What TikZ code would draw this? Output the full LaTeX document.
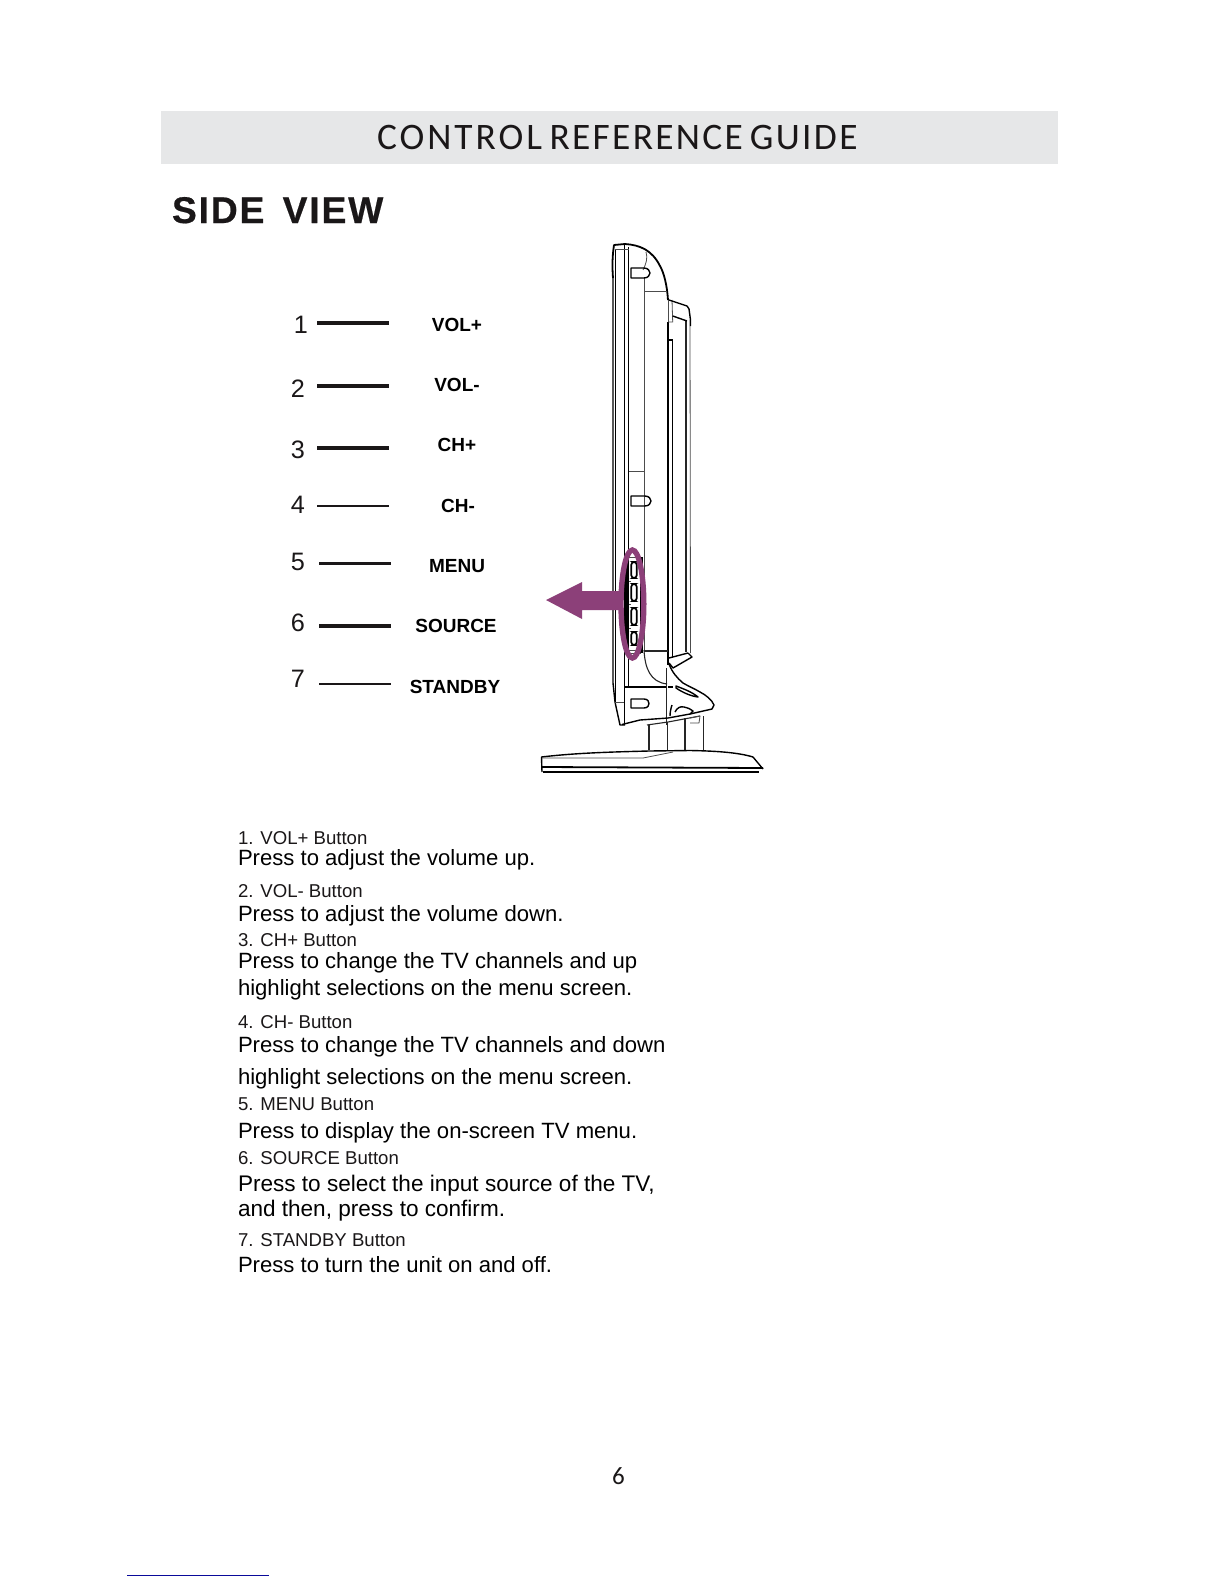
\documentclass[tikz,border=0pt]{standalone}
\usepackage{fontspec}
\setmainfont{Liberation Sans}
\newfontfamily\titlefont[LetterSpace=6.2,WordSpace=0.65]{Carlito}
\newfontfamily\titlefontb[LetterSpace=8,WordSpace=0.65]{Carlito}
\newfontfamily\pagefont{Carlito}
\newfontfamily\headfont[LetterSpace=5,WordSpace=1.5,FakeBold=0.5]{Liberation Sans Bold}
\definecolor{bannerfill}{HTML}{E6E7E8}
\definecolor{plum}{HTML}{8C4079}
\definecolor{inkblack}{HTML}{1A1718}
\definecolor{rulecol}{HTML}{0A0A9A}
\tikzset{
  base/.style={anchor=base west,inner sep=0pt,outer sep=0pt,text=inkblack},
  numtext/.style={anchor=center,inner sep=0pt,text=inkblack,font=\fontsize{12.6}{14}\selectfont},
  keytext/.style={anchor=center,inner sep=0pt,text=black,font=\bfseries\fontsize{9.5}{11}\selectfont},
  small/.style={base,font=\fontsize{9.3}{11}\selectfont},
  big/.style={base,text=black,font=\fontsize{11.05}{13}\selectfont},
  bigger/.style={base,text=black,font=\fontsize{11.28}{13}\selectfont},
  leaderthick/.style={draw=inkblack,line width=1.6pt},
  leaderthin/.style={draw=inkblack,line width=1.1pt},
  tv/.style={draw=black,line width=.7pt,line join=round},
  tvmid/.style={draw=black!85,line width=.55pt,line join=round},
  tvthin/.style={draw=black!70,line width=.4pt,line join=round},
  pill/.style={draw=black,line width=.85pt,rounded corners=1.5pt,fill=white},
}
\begin{document}
\begin{tikzpicture}[x=.5pt,y=-.5pt]
\useasboundingbox (0,0) rectangle (1224,1584);
\fill[white] (0,0) rectangle (1224,1584);
% banner
\fill[bannerfill] (161,111) rectangle (1058,164);
\node[base,font=\fontsize{18.7}{22}\selectfont] (title) at (377,149) {\titlefontb CONTROL \titlefont REFERENCE GUIDE};
\node[base,text=inkblack,font=\headfont\fontsize{18.6}{22}\selectfont] (head) at (172,223) {SIDE VIEW};
% numbers
\node[numtext] (n1) at (301,325) {1};
\node[numtext] (n2) at (298,389) {2};
\node[numtext] (n3) at (298,450) {3};
\node[numtext] (n4) at (298,505) {4};
\node[numtext] (n5) at (298,562) {5};
\node[numtext] (n6) at (298,623) {6};
\node[numtext] (n7) at (298,679) {7};
% leaders
\coordinate (a1) at (317,323); \coordinate (b1) at (389,323);
\coordinate (a2) at (317,386); \coordinate (b2) at (389,386);
\coordinate (a3) at (317,448); \coordinate (b3) at (389,448);
\coordinate (a4) at (317,506); \coordinate (b4) at (389,506);
\coordinate (a5) at (319,563.5); \coordinate (b5) at (391,563.5);
\coordinate (a6) at (319,626); \coordinate (b6) at (391,626);
\coordinate (a7) at (319,684); \coordinate (b7) at (391,684);
\draw[leaderthick] (a1) -- (b1);
\draw[leaderthick] (a2) -- (b2);
\draw[leaderthick] (a3) -- (b3);
\draw[leaderthin] (a4) -- (b4);
\draw[leaderthick] (a5) -- (b5);
\draw[leaderthick] (a6) -- (b6);
\draw[leaderthin] (a7) -- (b7);
% key labels
\node[keytext] (k1) at (457,325) {VOL+};
\node[keytext] (k2) at (457,385) {VOL-};
\node[keytext] (k3) at (457,445) {CH+};
\node[keytext] (k4) at (458,506) {CH-};
\node[keytext] (k5) at (457,566) {MENU};
\node[keytext] (k6) at (456,626) {SOURCE};
\node[keytext] (k7) at (455,687) {STANDBY};
% TV body, vertical lines
\draw[tv] (613,278) -- (613,683) -- (615,702) -- (620,725) -- (625,725);
\draw[tv] (615.3,250) -- (615.3,702);
\draw[tv] (624.3,245) -- (624.3,725);
\draw[tv] (628.7,247) -- (628.7,687);
\draw[tvthin] (644,278) -- (644,650);
\draw[tvthin] (668,300) -- (668,322);
\draw[tv] (668,322) -- (668,665);
\draw[tvthin] (672,300) -- (672.7,322) -- (668,322);
\draw[tv] (672.7,340) -- (672.7,658);
\draw[tv] (668,340) -- (672.7,340);
\draw[tvmid] (686,321) -- (686,652);
\draw[tvthin] (690,320) -- (690.5,653);
% top curve
\draw[tv,line width=.9pt] (613,278) .. controls (612,265) and (612.5,255) .. (614,245) -- (625,244)
  .. controls (640,245) and (652,250) .. (660,266) .. controls (664,273) and (667,285) .. (668,300);
\draw[tvthin] (615.3,249) -- (628.7,249);
\draw[tvthin] (646,252) .. controls (648,258) and (646,264) .. (643,270);
\draw[tvthin] (644,291) -- (667,291);
\draw[tvthin] (628.7,471) -- (644,471);
% back bump
\draw[tv] (669,300) -- (687,306) -- (689,309) -- (690.5,320) -- (690.5,326);
\draw[tv] (672.7,316) -- (687,321);
% D-shaped clips
\draw[tv] (631,268) -- (644,268) .. controls (648,268) and (650,271) .. (650,273) .. controls (650,275) and (648,278) .. (644,278) -- (631,278) -- cycle;
\draw[tv] (631,496) -- (645,496) .. controls (649,496) and (651,499) .. (651,501) .. controls (651,503) and (649,506) .. (645,506) -- (631,506) -- cycle;
\draw[tv] (631,699) -- (644,699) .. controls (648,699) and (649,702) .. (649,703.5) .. controls (649,705) and (648,708) .. (644,708) -- (631,708) -- cycle;
% lower body
\draw[tvmid] (644,650) .. controls (645,668) and (650,682) .. (667,684);
\draw[tvmid] (644,651) -- (668,651);
\draw[tv,line width=.9pt] (624.3,687) -- (667,687);
\draw[tv,line width=1pt] (668,687) -- (673,687);
\draw[tvthin] (615.3,702) -- (624.3,702);
\draw[tvmid] (666.7,668) -- (666.7,725);
\draw[tv] (688,653) -- (692,657) -- (673,668) -- (669,663);
\draw[tv] (669,658) -- (688,653);
\draw[tv] (669,664) .. controls (672,672) and (677,678) .. (683,683) .. controls (690,687) and (695,689) .. (700,692) .. controls (706,695) and (712,700) .. (714,705) -- (712,709) -- (690,714) -- (668,718) -- (640,720) -- (622,724.5);
\draw[tvmid] (647,725) -- (668,722) -- (700,716);
\draw[tv] (676,686) .. controls (684,689) and (692,692) .. (698,697) .. controls (690,696) and (682,692) .. (676,688) -- cycle;
\draw[tv] (670,716) .. controls (670,712) and (671,708) .. (672,705);
\draw[tv] (675,712) .. controls (677,708) and (680,706) .. (684,707) .. controls (688,708) and (691,709) .. (693,711) -- (690,714);
\draw[tvthin] (690,718) -- (700,716) -- (699,723) -- (690,723);
% neck
\draw[tvmid] (649,725) -- (649,750);
\draw[tvmid] (667.5,722) -- (667.5,750);
\draw[tvmid] (685,718) -- (685,750);
\draw[tvmid] (703.3,716) -- (703.3,750);
% base
\draw[tv] (542,772) -- (541.5,757) .. controls (575,753) and (610,752) .. (649,751) -- (690,750.5) .. controls (720,751) and (740,753) .. (753,757) -- (763,769);
\draw[tv,line width=.9pt] (541.5,767) -- (763,768);
\draw[tvthin] (542,758) -- (643,758) -- (673,752);
\draw[tv,line width=.9pt] (543,772) -- (759,772);
% side panel with buttons
\fill[black] (625,557) rectangle (628.5,653);
\draw[tv,line width=1.5pt] (641,557) -- (641,653);
\draw[tvthin] (628.5,557) -- (641,557);
\draw[tvthin] (628.5,653) -- (641,653);
\draw[tvthin] (628.5,650) -- (641,650);
\draw[pill] (631.2,562) rectangle (636.8,578);
\draw[pill] (631.2,584) rectangle (636.8,601);
\draw[pill] (631.2,608) rectangle (636.8,625);
\draw[pill] (631.2,632) rectangle (636.8,645);
\draw[tvthin] (628.5,581) -- (631,581);
\draw[tvthin] (628.5,604) -- (631,604);
\draw[tvthin] (628.5,628) -- (631,628);
% plum arrow and ring
\fill[plum] (546,600) -- (582,582) -- (582,591) -- (621,591) -- (621,610) -- (582,610) -- (582,619) -- cycle;
\draw[plum,line width=2.7pt] (632.4,604) ellipse [x radius=11.4,y radius=54];
% descriptions
\node[small] (d1a) at (238,844) {1. VOL+ Button};
\node[big]   (d1b) at (238,865.3) {Press to adjust the volume up.};
\node[small] (d2a) at (238,897.3) {2. VOL- Button};
\node[big]   (d2b) at (238,921.7) {Press to adjust the volume down.};
\node[small] (d3a) at (238,946.7) {3. CH+ Button};
\node[big]   (d3b) at (238,968.3) {Press to change the TV channels and up};
\node[big]   (d3c) at (238,995) {highlight selections on the menu screen.};
\node[small] (d4a) at (238,1028.3) {4. CH- Button};
\node[big]   (d4b) at (238,1052.7) {Press to change the TV channels and down};
\node[big]   (d4c) at (238,1084) {highlight selections on the menu screen.};
\node[small] (d5a) at (238,1110) {5. MENU Button};
\node[big]   (d5b) at (238,1138.3) {Press to display the on-screen TV menu.};
\node[small] (d6a) at (238,1164) {6. SOURCE Button};
\node[bigger] (d6b) at (238,1191.7) {Press to select the input source of the TV,};
\node[bigger] (d6c) at (238,1216.7) {and then, press to confirm.};
\node[small] (d7a) at (238,1246.7) {7. STANDBY Button};
\node[big]   (d7b) at (238,1272.3) {Press to turn the unit on and off.};
% page number and footer rule
\node[anchor=center,inner sep=0pt,text=inkblack,font=\pagefont\fontsize{12.5}{14}\selectfont] (pg) at (618.5,1476) {6};
\draw[rulecol,line width=.65pt] (127,1575.3) -- (269,1575.3);
\end{tikzpicture}
\end{document}
